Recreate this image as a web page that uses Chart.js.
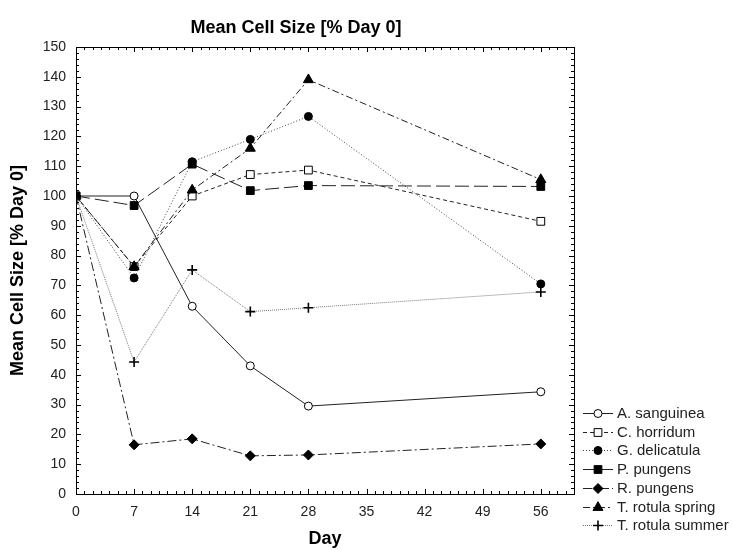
<!DOCTYPE html>
<html>
<head>
<meta charset="utf-8">
<script src="https://cdn.jsdelivr.net/npm/chart.js@4.4.0/dist/chart.umd.min.js"></script>
<style>
html, body { margin: 0; padding: 0; background: #fff; }
</style>
</head>
<body>
<canvas id="cell_size" width="732" height="550"></canvas>
<script>
const days = [0, 7, 14, 21, 28, 56]
const xTicks = [0, 7, 14, 21, 28, 35, 42, 49, 56]
const seriesNames = ['A. sanguinea', 'C. horridum', 'G. delicatula', 'P. pungens', 'R. pungens', 'T. rotula spring', 'T. rotula summer']
const aSanguinea = [100, 100, 63, 43, 29.5, 34.3]
const cHorridum = [100, 76.3, 100, 107.2, 108.7, 91.5]
const gDelicatula = [100, 72.5, 111.5, 119, 126.7, 70.5]
const pPungens = [100, 96.8, 110.7, 101.8, 103.5, 103.2]
const rPungens = [100, 16.5, 18.5, 12.8, 13.1, 16.8]
const tRotulaSpring = [100, 76.3, 102, 116, 139, 105.5]
const tRotulaSummer = [100, 44.3, 75.2, 61.2, 62.5, 67.8]
const allSeries = [aSanguinea, cHorridum, gDelicatula, pPungens, rPungens, tRotulaSpring, tRotulaSummer]

// line / marker look for each series, same order as seriesNames
const looks = [
    { dash: [], color: '#222', point: 'circle', radius: 4, fill: '#fff' },
    { dash: [4, 3], color: '#222', point: 'rect', radius: 5.5, fill: '#fff' },
    { dash: [1, 2], color: '#444', point: 'circle', radius: 4, fill: '#000' },
    { dash: [14, 5], color: '#222', point: 'rect', radius: 5.5, fill: '#000' },
    { dash: [9, 3, 2, 3], color: '#222', point: 'rectRot', radius: 5, fill: '#000' },
    { dash: [7, 3, 2, 3], color: '#222', point: 'triangle', radius: 5.8, fill: '#000' },
    { dash: [1, 1], color: '#777', point: 'cross', radius: 5, fill: '#000' },
]

const FONT = "'Liberation Sans', Arial, sans-serif"

const datasets = seriesNames.map((name, i) => ({
    label: name,
    data: days.map((d, j) => ({ x: d, y: allSeries[i][j] })),
    borderColor: looks[i].color,
    borderWidth: 1,
    borderDash: looks[i].dash,
    pointStyle: looks[i].point,
    pointRadius: looks[i].radius,
    pointBackgroundColor: looks[i].fill,
    pointBorderColor: '#000',
    pointBorderWidth: looks[i].point == 'cross' ? 1.6 : 1,
    tension: 0,
    clip: 0,
    order: seriesNames.length - i,
}))

// frame with inward ticks, main title, legend
const decor = {
    id: 'decor',
    afterDraw(chart) {
        const ctx = chart.ctx
        const a = chart.chartArea
        const xs = chart.scales.x, ys = chart.scales.y
        ctx.save()
        ctx.strokeStyle = '#000'
        ctx.lineWidth = 1
        ctx.setLineDash([])
        ctx.strokeRect(Math.round(a.left) + 0.5, Math.round(a.top) + 0.5, Math.round(a.right - a.left), Math.round(a.bottom - a.top))
        ctx.beginPath()
        for (let v = 0; v <= 60; v++) {
            const px = Math.round(xs.getPixelForValue(v)) + 0.5
            const len = v % 7 == 0 ? 5 : 3
            ctx.moveTo(px, a.bottom); ctx.lineTo(px, a.bottom - len)
            ctx.moveTo(px, a.top); ctx.lineTo(px, a.top + len)
        }
        for (let v = 0; v <= 150; v += 2) {
            const py = Math.round(ys.getPixelForValue(v)) + 0.5
            const len = v % 10 == 0 ? 5 : 3
            ctx.moveTo(a.left, py); ctx.lineTo(a.left + len, py)
            ctx.moveTo(a.right, py); ctx.lineTo(a.right - len, py)
        }
        ctx.stroke()

        ctx.fillStyle = '#000'
        ctx.font = 'bold 18px ' + FONT
        ctx.textAlign = 'center'
        ctx.textBaseline = 'middle'
        ctx.fillText('Mean Cell Size [% Day 0]', 296, 28)

        // legend
        ctx.font = '15px ' + FONT
        ctx.textAlign = 'left'
        chart.data.datasets.forEach((ds, i) => {
            const y = Math.round(413 + i * 18.7) + 0.5
            ctx.strokeStyle = ds.borderColor
            ctx.setLineDash(ds.borderDash)
            ctx.beginPath()
            ctx.moveTo(583, y); ctx.lineTo(613, y)
            ctx.stroke()
            ctx.setLineDash([])
            ctx.strokeStyle = '#000'
            ctx.fillStyle = ds.pointBackgroundColor
            ctx.lineWidth = ds.pointBorderWidth
            Chart.helpers.drawPoint(ctx, { pointStyle: ds.pointStyle, radius: ds.pointRadius, rotation: 0, borderWidth: ds.pointBorderWidth }, 598, y)
            ctx.lineWidth = 1
            ctx.fillStyle = '#222'
            ctx.fillText(ds.label, 617, y)
        })
        ctx.restore()
    }
}

const config = {
    type: 'line',
    data: { datasets: datasets },
    options: {
        responsive: false,
        animation: false,
        devicePixelRatio: 1,
        layout: { padding: { left: 0, right: 158, top: 47, bottom: 0 } },
        plugins: {
            legend: { display: false },
            title: { display: false },
            tooltip: { enabled: false },
        },
        scales: {
            x: {
                type: 'linear',
                min: 0,
                max: 60,
                grid: { display: false, drawTicks: false },
                border: { display: false },
                ticks: {
                    stepSize: 7,
                    autoSkip: false,
                    maxRotation: 0,
                    padding: 10,
                    color: '#222',
                    font: { family: FONT, size: 14 },
                    callback: v => xTicks.includes(v) ? String(v) : null,
                },
                title: {
                    display: true,
                    text: 'Day',
                    color: '#000',
                    font: { family: FONT, size: 18, weight: 'bold' },
                    padding: { top: 0, bottom: 0 },
                },
                afterFit: s => { s.height = 56 },
            },
            y: {
                min: 0,
                max: 150,
                grid: { display: false, drawTicks: false },
                border: { display: false },
                ticks: {
                    stepSize: 10,
                    padding: 10,
                    color: '#222',
                    font: { family: FONT, size: 14 },
                },
                title: {
                    display: true,
                    text: 'Mean Cell Size [% Day 0]',
                    color: '#000',
                    font: { family: FONT, size: 18, weight: 'bold' },
                    padding: { top: 7, bottom: 0 },
                },
                afterFit: s => { s.width = 76 },
            },
        },
    },
    plugins: [decor],
}

const cell_size_chart = new Chart(document.getElementById('cell_size'), config)
</script>
</body>
</html>
